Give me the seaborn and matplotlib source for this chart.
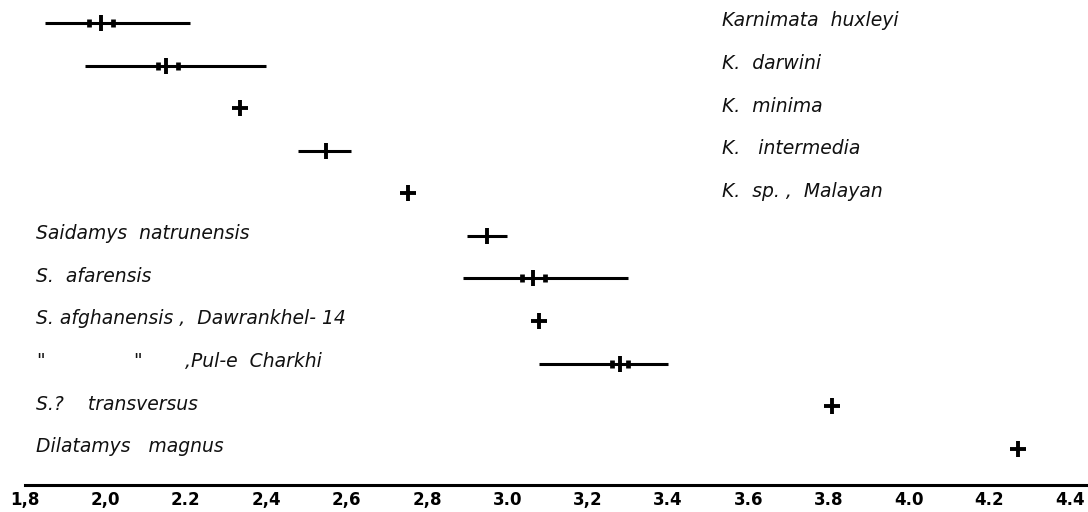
import numpy as np
import matplotlib
matplotlib.use("Agg")
import matplotlib.pyplot as plt
import seaborn as sns

# Species (top to bottom) and values
species = [
    "Karnimata  huxleyi", "K.  darwini", "K.  minima", "K.   intermedia",
    "K.  sp. ,  Malayan", "Saidamys  natrunensis", "S.  afarensis",
    "S. afghanensis ,  Dawrankhel- 14", None,
    "S.?    transversus", "Dilatamys   magnus",
]
means = [1.99, 2.15, 2.335, 2.55, 2.753, 2.95, 3.065, 3.08, 3.28, 3.807, 4.27]
range_min = [1.85, 1.95, np.nan, 2.48, np.nan, 2.90, 2.89, np.nan, 3.08, np.nan, np.nan]
range_max = [2.21, 2.40, np.nan, 2.61, np.nan, 3.00, 3.30, np.nan, 3.40, np.nan, np.nan]
ci_low = [1.96, 2.13, np.nan, np.nan, np.nan, np.nan, 3.036, np.nan, 3.26, np.nan, np.nan]
ci_high = [2.02, 2.18, np.nan, np.nan, np.nan, np.nan, 3.094, np.nan, 3.30, np.nan, np.nan]
xticks = [1.8, 2.0, 2.2, 2.4, 2.6, 2.8, 3.0, 3.2, 3.4, 3.6, 3.8, 4.0, 4.2, 4.4]
xtick_labels = ["1,8", "2,0", "2.2", "2,4", "2,6", "2,8", "3.0", "3,2",
                "3.4", "3.6", "3.8", "4.0", "4.2", "4.4"]
n_karnimata = 5

sns.set_style("white")
plt.rcParams["font.family"] = ["DejaVu Sans"]

fig = plt.figure(figsize=(10.88, 5.12), dpi=100)
ax = fig.add_axes([25 / 1088, 27 / 512, 1061 / 1088, 485 / 512])

rows = np.arange(len(means))
means = np.array(means)
rmin, rmax = np.array(range_min), np.array(range_max)
clo, chi = np.array(ci_low), np.array(ci_high)
has_range = ~np.isnan(rmin)
has_ci = ~np.isnan(clo)

# observed ranges
ax.hlines(rows[has_range], rmin[has_range], rmax[has_range], color="black", lw=2.2)
# means of samples
sns.scatterplot(x=means[has_range], y=rows[has_range], marker="|", s=125,
                linewidth=2.8, color="black", ax=ax)
# small bars either side of mean
sns.scatterplot(x=np.concatenate([clo[has_ci], chi[has_ci]]),
                y=np.concatenate([rows[has_ci], rows[has_ci]]),
                marker="|", s=38, linewidth=3.4, color="black", ax=ax)
# single specimens
sns.scatterplot(x=means[~has_range], y=rows[~has_range], marker="+", s=130,
                linewidth=2.8, color="black", ax=ax)

# labels
lab = dict(style="italic", fontsize=13.5, va="center", ha="left", color="#111111")
for i, name in enumerate(species):
    if name is None:
        continue
    x = 3.534 if i < n_karnimata else 1.828
    ax.text(x, i - 0.05, name, **lab)
# ditto row
ax.text(1.828, 8 - 0.05, '"', **lab)
ax.text(2.069, 8 - 0.05, '"', **lab)
ax.text(2.198, 8 - 0.05, ",Pul-e  Charkhi", **lab)

ax.set_xlim(1.8, 4.44)
ax.set_ylim(10.85, -0.54)
ax.set_xticks(xticks)
ax.set_xticklabels(xtick_labels, fontsize=12, fontweight="bold")
ax.set_yticks([])
ax.set_xlabel("")
ax.set_ylabel("")
sns.despine(ax=ax, left=True, top=True, right=True)
ax.spines["bottom"].set_linewidth(2.2)
ax.spines["bottom"].set_color("black")
ax.tick_params(axis="x", direction="out", length=3, width=2, pad=1, colors="black")
if ax.get_legend():
    ax.get_legend().remove()

fig.savefig("out.png", dpi=100)
